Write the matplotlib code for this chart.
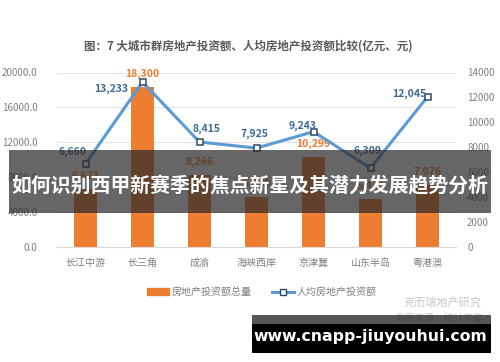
import matplotlib
matplotlib.use('Agg')
import matplotlib.pyplot as plt
from matplotlib.patches import Rectangle
from matplotlib.lines import Line2D
from matplotlib.patches import Patch

plt.rcParams['font.family'] = ['Noto Sans CJK SC', 'DejaVu Sans']

# data
regions = ['长江中游', '长三角', '成渝', '海峡西岸', '京津冀', '山东半岛', '粤港澳']
invest_total = [6623, 18300, 8266, 5740, 10299, 5470, 7076]      # 亿元
invest_per_capita = [6660, 13233, 8415, 7925, 9243, 6309, 12045]  # 元
left_ticks = [0, 4000, 8000, 12000, 16000, 20000]
right_ticks = [0, 2000, 4000, 6000, 8000, 10000, 12000, 14000]

# label offsets (pixels) for line labels
line_lbl_off = [(-13, 12), (-31, -7), (7, 13), (-2, 14), (-11, 6), (-3, 17), (-18, 3)]

W, H = 500, 362
fig = plt.figure(figsize=(5, 3.62), dpi=100)
fig.patch.set_facecolor('white')

ax = fig.add_axes((57 / W, 1 - 246.7 / H, 399 / W, 174.2 / H))
ax2 = ax.twinx()

x = range(len(regions))
orange = '#ED7D31'
blue = '#5B9BD5'
grey = '#7F7F7F'

ax.bar(x, invest_total, width=0.39, color=orange, zorder=2)
ax.set_ylim(0, 20000)
ax.set_xlim(-0.5, len(regions) - 0.5)
ax.set_yticks(left_ticks)
ax.set_yticklabels(['%.1f' % t for t in left_ticks])
ax.yaxis.grid(True, color='#E3E3E3', lw=0.8, zorder=0)
ax.set_axisbelow(True)
ax.set_xticks(list(x))
ax.set_xticklabels(regions)
for i, v in enumerate(invest_total):
    ax.annotate(f'{v:,}', (i, v), xytext=(0, 13), textcoords='offset pixels',
                ha='center', va='center', color=orange, fontsize=7.5, fontweight='bold')

ax2.plot(x, invest_per_capita, color=blue, lw=2.2, marker='s', ms=5,
         mfc='white', mec='#2F4A66', mew=1.1, zorder=3)
ax2.set_ylim(0, 14000)
ax2.set_yticks(right_ticks)
for i, v in enumerate(invest_per_capita):
    dx, dy = line_lbl_off[i]
    ax2.annotate(f'{v:,}', (i, v), xytext=(dx, dy), textcoords='offset pixels',
                 ha='center', va='center', color='#3E6A98', fontsize=7.5, fontweight='bold')

for a in (ax, ax2):
    for s in ('top', 'left', 'right'):
        a.spines[s].set_visible(False)
    a.spines['bottom'].set_color('#D9D9D9')
    a.tick_params(length=0, colors=grey, labelsize=7)
ax.tick_params(axis='y', pad=14)
ax.tick_params(axis='x', pad=8, labelsize=7.2)
ax2.tick_params(axis='y', pad=8)

fig.text(248 / W, 1 - 46 / H, '图：7 大城市群房地产投资额、人均房地产投资额比较(亿元、元)',
         ha='center', va='center', fontsize=8.3, fontweight='bold', color='#595959')

handles = [Patch(color=orange),
           Line2D([0], [0], color=blue, lw=2.2, marker='s', ms=5, mfc='white', mec='#2F4A66')]
fig.legend(handles, ['房地产投资额总量', '人均房地产投资额'], loc='center',
           bbox_to_anchor=(262 / W, 1 - 292 / H), ncol=2, frameon=False,
           fontsize=7.2, labelcolor=grey, handlelength=2.2, columnspacing=2.0,
           handletextpad=0.3)

fig.text(442 / W, 1 - 303 / H, '克而瑞地产研究', ha='center', va='center',
         fontsize=8, color='#C8C8C8')
fig.text(440 / W, 1 - 318 / H, '数据来源：统计年鉴', ha='center', va='center',
         fontsize=7, color='#C8C8C8')

# overlay banner
fig.patches.append(Rectangle((9 / W, 1 - 213 / H), 482 / W, 63 / H, transform=fig.transFigure,
                             facecolor='#2B2B2B', alpha=0.72, zorder=10))
fig.text(250 / W, 1 - 186 / H, '如何识别西甲新赛季的焦点新星及其潜力发展趋势分析',
         ha='center', va='center', fontsize=14.3, fontweight='bold', color='white', zorder=11)

# url box
fig.patches.append(Rectangle((252 / W, 1 - 324 / H), 239 / W, 9 / H, transform=fig.transFigure,
                             facecolor='#2B2B2B', alpha=0.8, zorder=10))
fig.patches.append(Rectangle((252 / W, 1 - 353 / H), 239 / W, 29 / H, transform=fig.transFigure,
                             facecolor='black', zorder=10))
fig.text(370 / W, 1 - 337 / H, 'www.cnapp-jiuyouhui.com', ha='center', va='center',
         fontsize=11.3, fontweight='bold', color='white', zorder=11, family=['DejaVu Sans'])

fig.savefig('out.png', dpi=100)
